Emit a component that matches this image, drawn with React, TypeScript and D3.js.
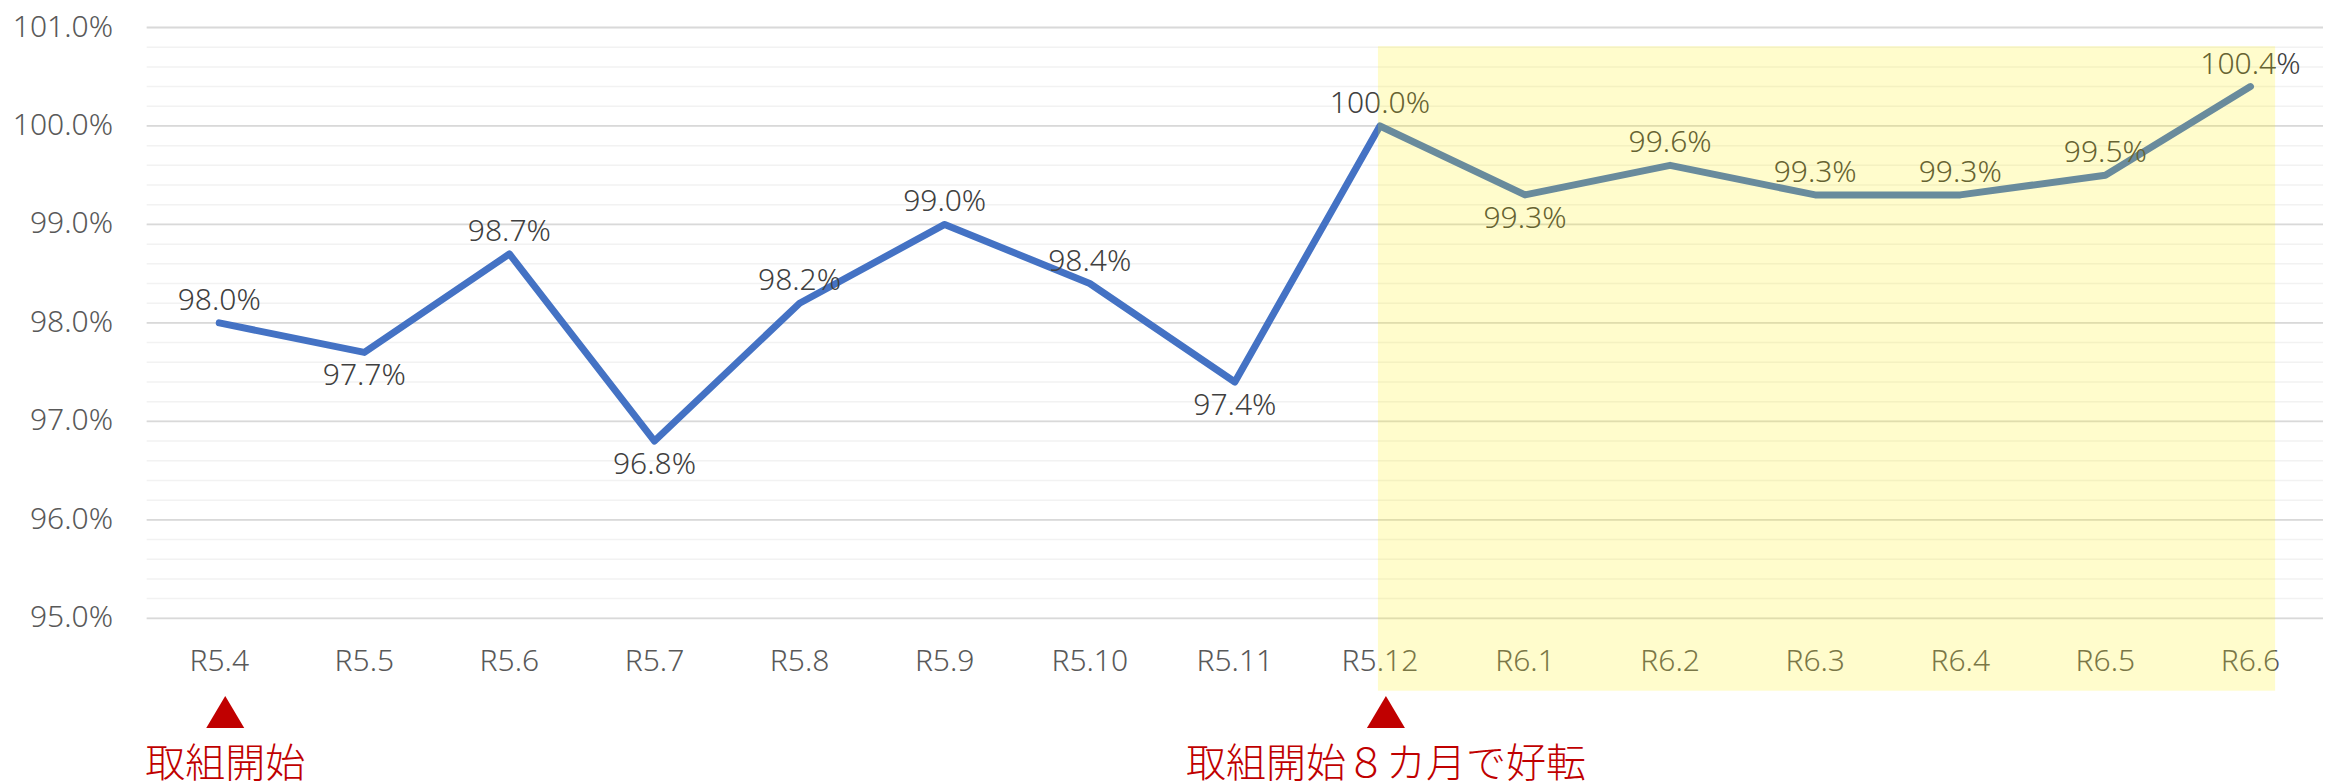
// Monthly rate chart — line with data labels, highlighted recovery period and annotations.
import { useEffect } from 'react';
import * as d3 from 'd3';

const MONTHS = ['R5.4', 'R5.5', 'R5.6', 'R5.7', 'R5.8', 'R5.9', 'R5.10', 'R5.11', 'R5.12', 'R6.1', 'R6.2', 'R6.3', 'R6.4', 'R6.5', 'R6.6'];
const RATES = [98.0, 97.7, 98.7, 96.8, 98.2, 99.0, 98.4, 97.4, 100.0, 99.3, 99.6, 99.3, 99.3, 99.5, 100.4];
// label above (true) or below (false) the point
const LABEL_ABOVE = [true, false, true, false, true, true, true, false, true, false, true, true, true, true, true];
const Y_TICKS = [95, 96, 97, 98, 99, 100, 101];
const HIGHLIGHT = ['R5.12', 'R6.6'];
const NOTES = [
  { month: 'R5.4', text: '取組開始' },
  { month: 'R5.12', text: '取組開始８カ月で好転' },
];

const W = 2335;
const H = 784;
const LEFT = 146.7;
const RIGHT = 2323;
const BLUE = '#4472C4';
const LABEL_FONT = '"Noto Sans", sans-serif';

export default function App() {
  useEffect(() => {
    document.body.style.margin = '0';
  }, []);

  const x = d3.scaleBand<string>().domain(MONTHS).range([LEFT, RIGHT]);
  const cx = (m: string) => (x(m) ?? 0) + x.bandwidth() / 2;
  const y = d3.scaleLinear().domain([95, 101]).range([618.3, 27.5]);

  const minor = y.ticks(30);
  const pts = MONTHS.map((m, i) => ({ m, v: RATES[i], above: LABEL_ABOVE[i] }));
  const line = d3.line<{ m: string; v: number }>().x((d) => cx(d.m)).y((d) => y(d.v));

  const hx0 = cx(HIGHLIGHT[0]) - 2;
  const hx1 = cx(HIGHLIGHT[1]) + x.bandwidth() * 0.17;
  const hy0 = y(100.81);
  const hy1 = 690.7;

  return (
    <svg width={W} height={H} style={{ display: 'block', background: '#fff' }}>
      {/* minor gridlines */}
      {minor.map((t) => (
        <line key={'m' + t} x1={LEFT} x2={RIGHT} y1={y(t)} y2={y(t)} stroke="#F2F2F2" strokeWidth={1.5} />
      ))}
      {/* major gridlines */}
      {Y_TICKS.map((t) => (
        <line key={'M' + t} x1={LEFT} x2={RIGHT} y1={y(t)} y2={y(t)} stroke="#D9D9D9" strokeWidth={1.8} />
      ))}
      {Y_TICKS.map((t) => (
        <text key={'yl' + t} x={113} y={y(t) + 9} textAnchor="end" fontFamily={LABEL_FONT} fontWeight={300} fontSize={30} fill="#595959">
          {t.toFixed(1)}%
        </text>
      ))}
      {MONTHS.map((m) => (
        <text key={'xl' + m} x={cx(m)} y={670.5} textAnchor="middle" fontFamily={LABEL_FONT} fontWeight={300} fontSize={30} fill="#595959">
          {m}
        </text>
      ))}

      <path d={line(pts) ?? ''} fill="none" stroke={BLUE} strokeWidth={7} strokeLinejoin="round" strokeLinecap="round" />

      {pts.map((p) => (
        <text
          key={'dl' + p.m}
          x={cx(p.m)}
          y={p.above ? y(p.v) - 13 : y(p.v) + 33}
          textAnchor="middle"
          fontFamily={LABEL_FONT}
          fontWeight={300}
          fontSize={30}
          fill="#404040"
        >
          {p.v.toFixed(1)}%
        </text>
      ))}

      {/* highlighted period, translucent yellow over everything */}
      <rect x={hx0} y={hy0} width={hx1 - hx0} height={hy1 - hy0} fill="#FFF000" opacity={0.2} />

      {NOTES.map((n) => {
        const c = cx(n.month) + 6;
        return (
          <g key={'n' + n.month}>
            <path d={`M${c - 19},728 L${c + 19},728 L${c},696 Z`} fill="#C00000" />
            <text x={c} y={777} textAnchor="middle" fontFamily='"Noto Sans CJK JP", sans-serif' fontWeight={300} fontSize={40} fill="#C00000">
              {n.text}
            </text>
          </g>
        );
      })}
    </svg>
  );
}
